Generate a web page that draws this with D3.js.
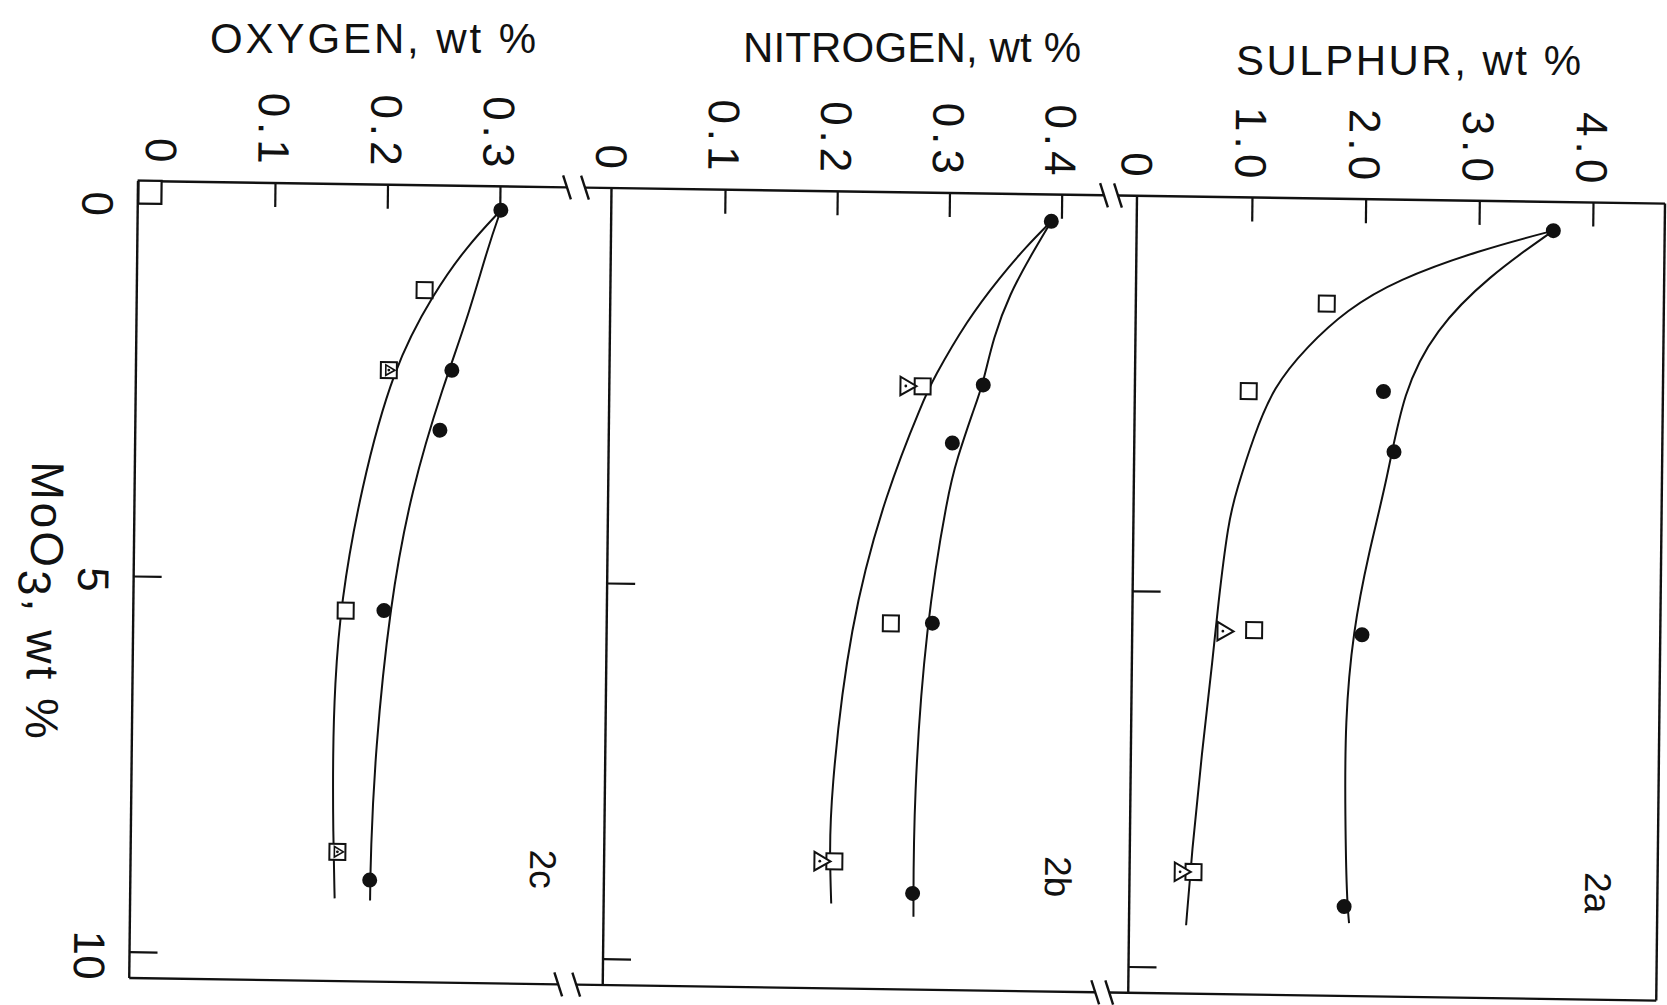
<!DOCTYPE html>
<html>
<head>
<meta charset="utf-8">
<script src="https://cdn.jsdelivr.net/npm/d3@7"></script>
<style>
body { margin: 0; background: #fff; }
svg text { font-family: "Liberation Sans", Arial, sans-serif; fill: #111; }
</style>
</head>
<body>
<svg id="chart" width="1667" height="1005"></svg>
<script>

// 2c  oxygen, wt %
var oxyCircleMo = [0.06, 2.2, 3.0, 5.41, 9.0];
var oxyCircle = [0.301, 0.259, 0.249, 0.201, 0.191];
var oxySquareMo = [1.14, 2.21, 5.42, 8.63];
var oxySquare = [0.234, 0.203, 0.167, 0.162];
var oxyTriangleMo = [2.21, 8.63];
var oxyTriangle = [0.203, 0.162];
var oxyCornerMo = [-0.11];
var oxyCorner = [-0.011];
var oxyFitCircleMo = [0.06, 0.55, 1.53, 2.38, 3.8, 5.36, 7.31, 8.64, 9.27];
var oxyFitCircle = [0.301, 0.290, 0.272, 0.252, 0.224, 0.206, 0.1945, 0.1916, 0.1915];
var oxyFitSquareMo = [0.06, 0.55, 1.18, 2.16, 3.81, 5.32, 6.43, 7.32, 8.39, 9.25];
var oxyFitSquare = [0.301, 0.271, 0.242, 0.207, 0.179, 0.1625, 0.158, 0.157, 0.158, 0.160];

// 2b  nitrogen, wt %
var nitCircleMo = [0.1, 2.29, 3.07, 5.47, 9.07];
var nitCircle = [0.391, 0.332, 0.305, 0.289, 0.274];
var nitSquareMo = [2.32, 5.48, 8.66];
var nitSquare = [0.278, 0.252, 0.204];
var nitTriangleMo = [2.32, 8.66];
var nitTriangle = [0.263, 0.191];
var nitFitCircleMo = [0.1, 0.575, 1.066, 1.65, 2.29, 2.63, 3.3, 3.7, 5.5, 7.83, 9.38];
var nitFitCircle = [0.391, 0.3725, 0.355, 0.3405, 0.3316, 0.3234, 0.309, 0.302, 0.283, 0.274, 0.275];
var nitFitSquareMo = [0.1, 0.44, 0.85, 1.43, 2.23, 2.5, 3.71, 5.5, 7.85, 8.66, 9.22];
var nitFitSquare = [0.391, 0.369, 0.346, 0.317, 0.287, 0.279, 0.247, 0.215, 0.1996, 0.2, 0.2016];

// 2a  sulphur, wt %
var sulCircleMo = [0.125, 2.30, 3.10, 5.54, 9.16];
var sulCircle = [3.654, 2.175, 2.274, 2.01, 1.879];
var sulSquareMo = [1.14, 2.32, 5.50, 8.73];
var sulSquare = [1.668, 0.99, 1.061, 0.551];
var sulTriangleMo = [5.52, 8.73];
var sulTriangle = [0.786, 0.433];
var sulFitCircleMo = [0.125, 0.75, 1.47, 2.29, 3.46, 4.45, 5.5, 6.68, 8.01, 9.03, 9.38];
var sulFitCircle = [3.654, 3.084, 2.623, 2.349, 2.218, 2.06, 1.93, 1.869, 1.88, 1.901, 1.924];
var sulFitSquareMo = [0.125, 0.397, 0.81, 1.22, 1.72, 2.26, 2.93, 3.64, 4.04, 5.24, 5.82, 7.15, 8.48, 9.44];
var sulFitSquare = [3.654, 3.011, 2.281, 1.844, 1.496, 1.207, 1.036, 0.894, 0.824, 0.736, 0.705, 0.612, 0.534, 0.491];

// tick values
var moTicks = [0, 5, 10];
var oxyTicks = [0, 0.1, 0.2, 0.3];
var nitTicks = [0, 0.1, 0.2, 0.3, 0.4];
var sulTicks = [0, 1, 2, 3, 4];

var svg = d3.select('#chart');
svg.append('rect').attr('width', 1667).attr('height', 1005).attr('fill', '#fff');

// the scan is slightly skewed, so the plot lives in a sheared frame
var plot = svg.append('g').attr('transform', 'translate(138,181) matrix(1,0.0148,-0.011,1,0,0)');

var y = d3.scaleLinear().domain([0, 10]).range([19.3, 770.7]);
var xO = d3.scaleLinear().domain([0, 0.3]).range([24.5, 362]);
var xN = d3.scaleLinear().domain([0, 0.4]).range([474.8, 923.7]);
var xS = d3.scaleLinear().domain([0, 4]).range([1000.3, 1455]);

var bottom = 797;
var ink = '#111';

// frame with axis breaks
var frame = plot.append('g').attr('stroke', ink).attr('stroke-width', 2.4).attr('fill', 'none');
[0, 473.5, 999, 1527].forEach(function(u){
  frame.append('line').attr('x1', u).attr('x2', u).attr('y1', 0).attr('y2', bottom);
});
[[0, 429], [447, 966], [980, 1527]].forEach(function(s){
  [0, bottom].forEach(function(v){
    frame.append('line').attr('x1', s[0]).attr('x2', s[1]).attr('y1', v).attr('y2', v);
  });
});
[429, 447, 966, 980].forEach(function(u){
  [0, bottom].forEach(function(v){
    frame.append('line').attr('x1', u - 4).attr('x2', u + 4).attr('y1', v - 12).attr('y2', v + 12);
  });
});

var fmt = function(d){ return d === 0 ? '0' : d3.format('.1f')(d); };

function topAxis(scale, values){
  var g = plot.append('g')
    .call(d3.axisTop(scale).tickValues(values).tickSizeInner(-24).tickSizeOuter(0).tickFormat(fmt));
  g.attr('color', ink).attr('font-family', null).attr('font-size', null);
  g.select('.domain').remove();
  g.selectAll('.tick line').attr('stroke-width', 2.2).filter(function(d){ return d === 0; }).remove();
  g.selectAll('.tick text')
    .attr('x', null).attr('y', null).attr('dy', null)
    .attr('transform', 'translate(-2,-14) rotate(90)')
    .attr('text-anchor', 'end')
    .attr('dominant-baseline', 'central')
    .style('letter-spacing', '5px')
    .style('font-size', '44px');
}
topAxis(xO, oxyTicks);
topAxis(xN, nitTicks);
topAxis(xS, sulTicks);

function leftTicks(u){
  var g = plot.append('g').attr('transform', 'translate(' + u + ',0)')
    .call(d3.axisLeft(y).tickValues([5, 10]).tickSizeInner(-28).tickSizeOuter(0).tickFormat(''));
  g.attr('color', ink);
  g.select('.domain').remove();
  g.selectAll('.tick line').attr('stroke-width', 2.2);
}
leftTicks(0);
leftTicks(473.5);
leftTicks(999);

plot.selectAll('text.mo').data(moTicks).enter().append('text')
  .attr('class', 'mo')
  .attr('transform', function(d){ return 'translate(-40,' + (y(d) + 4) + ') rotate(90)'; })
  .attr('text-anchor', 'middle')
  .attr('dominant-baseline', 'central')
  .style('font-size', '44px')
  .text(function(d){ return d; });

// MoO3 axis title
var mt = plot.append('text')
  .attr('transform', 'translate(-103,422) rotate(90)')
  .attr('text-anchor', 'middle')
  .style('letter-spacing', '3px')
  .style('font-size', '46px');
mt.append('tspan').text('MoO');
mt.append('tspan').attr('dy', 12).text('3');
mt.append('tspan').attr('dy', -9).text(', wt %');

// panel titles (horizontal on the page)
[
  {t: 'OXYGEN, wt %', x: 210, y: 53, w: 326},
  {t: 'NITROGEN, wt %', x: 743, y: 62, w: 338},
  {t: 'SULPHUR, wt %', x: 1236, y: 75, w: 345}
].forEach(function(d){
  svg.append('text').attr('x', d.x).attr('y', d.y)
    .attr('textLength', d.w)
    .style('font-size', '42px')
    .text(d.t);
});

function zip(mo, val){
  return mo.map(function(m, i){ return {mo: m, v: val[i]}; });
}

var tri = d3.symbol().type(d3.symbolTriangle);

function drawPanel(x, p){
  var line = d3.line().x(function(d){ return x(d.v); }).y(function(d){ return y(d.mo); }).curve(d3.curveBasis);
  var g = plot.append('g');
  [zip(p.fitCircleMo, p.fitCircle), zip(p.fitSquareMo, p.fitSquare)].forEach(function(pts){
    g.append('path').attr('d', line(pts)).attr('fill', 'none').attr('stroke', ink).attr('stroke-width', 2);
  });
  g.selectAll('rect.sq').data(zip(p.squareMo, p.square)).enter().append('rect')
    .attr('class', 'sq')
    .attr('x', function(d){ return x(d.v) - 8; })
    .attr('y', function(d){ return y(d.mo) - 8; })
    .attr('width', 16).attr('height', 16)
    .attr('fill', '#fff').attr('stroke', ink).attr('stroke-width', 2);
  var small = p.smallTri;
  var t = g.selectAll('g.tri').data(zip(p.triMo, p.tri)).enter().append('g')
    .attr('class', 'tri')
    .attr('transform', function(d){ return 'translate(' + x(d.v) + ',' + y(d.mo) + ')'; });
  t.append('path')
    .attr('d', tri.size(small ? 48 : 150)())
    .attr('transform', 'rotate(90)')
    .attr('fill', small ? 'none' : '#fff').attr('stroke', ink).attr('stroke-width', small ? 1.6 : 2);
  t.append('circle').attr('r', 1.4).attr('fill', ink);
  g.selectAll('circle.pt').data(zip(p.circleMo, p.circle)).enter().append('circle')
    .attr('class', 'pt')
    .attr('cx', function(d){ return x(d.v); })
    .attr('cy', function(d){ return y(d.mo); })
    .attr('r', 7.5).attr('fill', ink);
  plot.append('text')
    .attr('transform', 'translate(' + p.label[0] + ',' + p.label[1] + ') rotate(90)')
    .attr('text-anchor', 'middle')
    .attr('dominant-baseline', 'central')
    .style('font-size', '37px')
    .text(p.name);
}

drawPanel(xO, {
  name: '2c', label: [412, 682], smallTri: true,
  circleMo: oxyCircleMo, circle: oxyCircle,
  squareMo: oxySquareMo, square: oxySquare,
  triMo: oxyTriangleMo, tri: oxyTriangle,
  fitCircleMo: oxyFitCircleMo, fitCircle: oxyFitCircle,
  fitSquareMo: oxyFitSquareMo, fitSquare: oxyFitSquare
});
drawPanel(xN, {
  name: '2b', label: [927, 682], smallTri: false,
  circleMo: nitCircleMo, circle: nitCircle,
  squareMo: nitSquareMo, square: nitSquare,
  triMo: nitTriangleMo, tri: nitTriangle,
  fitCircleMo: nitFitCircleMo, fitCircle: nitFitCircle,
  fitSquareMo: nitFitSquareMo, fitSquare: nitFitSquare
});
drawPanel(xS, {
  name: '2a', label: [1467, 690], smallTri: false,
  circleMo: sulCircleMo, circle: sulCircle,
  squareMo: sulSquareMo, square: sulSquare,
  triMo: sulTriangleMo, tri: sulTriangle,
  fitCircleMo: sulFitCircleMo, fitCircle: sulFitCircle,
  fitSquareMo: sulFitSquareMo, fitSquare: sulFitSquare
});

// the open square sitting in the corner of panel 2c
plot.selectAll('rect.corner').data(zip(oxyCornerMo, oxyCorner)).enter().append('rect')
  .attr('class', 'corner')
  .attr('x', function(d){ return xO(d.v) - 11.5; })
  .attr('y', function(d){ return y(d.mo) - 11.5; })
  .attr('width', 23).attr('height', 23)
  .attr('fill', '#fff').attr('stroke', ink).attr('stroke-width', 2.2);
</script>
</body>
</html>
